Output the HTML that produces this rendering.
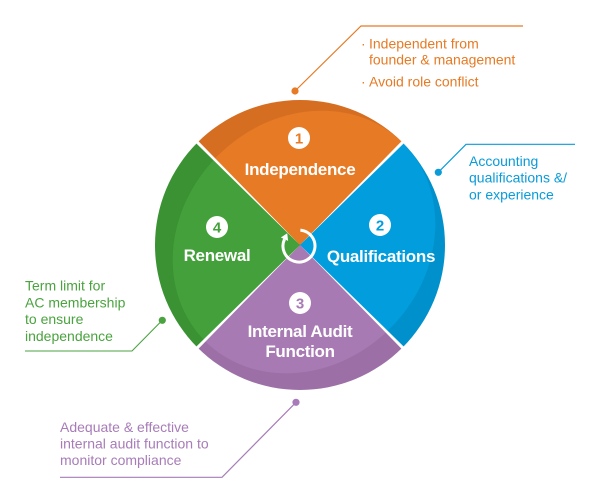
<!DOCTYPE html>
<html>
<head>
<meta charset="utf-8">
<style>
  html, body { margin: 0; padding: 0; background: #ffffff; }
  body { width: 600px; height: 500px; overflow: hidden; }
  svg { display: block; }
  .lbl { font-family: "Liberation Sans", "DejaVu Sans", sans-serif; font-weight: bold; font-size: 17px; fill: #ffffff; letter-spacing: -0.3px; }
  .num { font-family: "Liberation Sans", "DejaVu Sans", sans-serif; font-weight: bold; font-size: 15px; }
  .cap { font-family: "Liberation Sans", "DejaVu Sans", sans-serif; font-size: 14px; }
</style>
</head>
<body>
<svg width="600" height="500" viewBox="0 0 600 500" xmlns="http://www.w3.org/2000/svg">
  <defs>
    <clipPath id="cO"><path d="M300,245 L197.47,142.47 A145,145 0 0 1 402.53,142.47 Z"/></clipPath>
    <clipPath id="cB"><path d="M300,245 L402.53,142.47 A145,145 0 0 1 402.53,347.53 Z"/></clipPath>
    <clipPath id="cP"><path d="M300,245 L402.53,347.53 A145,145 0 0 1 197.47,347.53 Z"/></clipPath>
    <clipPath id="cG"><path d="M300,245 L197.47,347.53 A145,145 0 0 1 197.47,142.47 Z"/></clipPath>
  </defs>

  <!-- Orange sector -->
  <g clip-path="url(#cO)">
    <circle cx="300" cy="245" r="146" fill="#D66E22"/>
    <ellipse cx="304" cy="242" rx="140" ry="122" transform="rotate(-45 304 242)" fill="#E77A24"/>
  </g>
  <!-- Blue sector -->
  <g clip-path="url(#cB)">
    <circle cx="300" cy="245" r="146" fill="#0091CC"/>
    <ellipse cx="304" cy="242" rx="140" ry="122" transform="rotate(-45 304 242)" fill="#029DDC"/>
  </g>
  <!-- Purple sector -->
  <g clip-path="url(#cP)">
    <circle cx="300" cy="245" r="146" fill="#9C70A6"/>
    <ellipse cx="304" cy="242" rx="140" ry="122" transform="rotate(-45 304 242)" fill="#A87AB4"/>
  </g>
  <!-- Green sector -->
  <g clip-path="url(#cG)">
    <circle cx="300" cy="245" r="146" fill="#3A9233"/>
    <ellipse cx="304" cy="242" rx="140" ry="122" transform="rotate(-45 304 242)" fill="#44A03A"/>
  </g>

  <!-- white separating wedges -->
  <polygon points="300,245 195.06,137.80 192.80,140.06" fill="#ffffff"/>
  <polygon points="300,245 407.20,140.06 404.94,137.80" fill="#ffffff"/>
  <polygon points="300,245 404.94,352.20 407.20,349.94" fill="#ffffff"/>
  <polygon points="300,245 195.06,352.20 192.80,349.94" fill="#ffffff"/>

  <!-- center circular arrow -->
  <path d="M300.4,230.1 A16,16 0 1 1 284.5,239.2" fill="none" stroke="#ffffff" stroke-width="3"/>
  <polygon points="287.2,233.2 280.9,237.5 288.1,240.9" fill="#ffffff"/>

  <!-- number badges -->
  <circle cx="299" cy="138" r="11" fill="#ffffff"/>
  <text x="299" y="143.4" text-anchor="middle" class="num" fill="#E77A24">1</text>
  <circle cx="380" cy="225" r="11" fill="#ffffff"/>
  <text x="380" y="230.4" text-anchor="middle" class="num" fill="#029DDC">2</text>
  <circle cx="300" cy="303" r="11" fill="#ffffff"/>
  <text x="300" y="308.4" text-anchor="middle" class="num" fill="#A87AB4">3</text>
  <circle cx="217" cy="227" r="11" fill="#ffffff"/>
  <text x="217" y="232.4" text-anchor="middle" class="num" fill="#44A03A">4</text>

  <!-- sector labels -->
  <text x="300" y="175" text-anchor="middle" class="lbl">Independence</text>
  <text x="381" y="262" text-anchor="middle" class="lbl">Qualifications</text>
  <text x="217" y="261" text-anchor="middle" class="lbl">Renewal</text>
  <text x="300" y="337" text-anchor="middle" class="lbl">Internal Audit</text>
  <text x="300" y="357" text-anchor="middle" class="lbl">Function</text>

  <!-- Orange callout -->
  <polyline points="295,91 361,26 523,26" fill="none" stroke="#E77A24" stroke-width="1.2"/>
  <circle cx="295" cy="91" r="3.6" fill="#E77A24"/>
  <g class="cap" fill="#E77A24">
    <text x="361" y="48.3">·</text>
    <text x="369" y="48.3">Independent from</text>
    <text x="369" y="64.5">founder &amp; management</text>
    <text x="361" y="86.3">·</text>
    <text x="369" y="86.3">Avoid role conflict</text>
  </g>

  <!-- Blue callout -->
  <polyline points="438.3,172.3 466,144.3 575,144.3" fill="none" stroke="#0A9BD9" stroke-width="1.2"/>
  <circle cx="438.3" cy="172.3" r="3.6" fill="#0A9BD9"/>
  <g class="cap" fill="#0A9BD9">
    <text x="469" y="166">Accounting</text>
    <text x="469" y="182.7">qualifications &amp;/</text>
    <text x="469" y="199.3">or experience</text>
  </g>

  <!-- Green callout -->
  <polyline points="162.3,320.3 132,351 25,351" fill="none" stroke="#4AA33F" stroke-width="1.1"/>
  <circle cx="162.3" cy="320.3" r="3.6" fill="#4AA33F"/>
  <g class="cap" fill="#4AA33F">
    <text x="25" y="290.5">Term limit for</text>
    <text x="25" y="307.3">AC membership</text>
    <text x="25" y="324">to ensure</text>
    <text x="25" y="340.8">independence</text>
  </g>

  <!-- Purple callout -->
  <polyline points="296,402.3 222,477.3 60,477.3" fill="none" stroke="#A77CB8" stroke-width="1.2"/>
  <circle cx="296" cy="402.3" r="3.6" fill="#A77CB8"/>
  <g class="cap" fill="#A77CB8">
    <text x="60" y="432">Adequate &amp; effective</text>
    <text x="60" y="448.5">internal audit function to</text>
    <text x="60" y="465">monitor compliance</text>
  </g>
</svg>
</body>
</html>
